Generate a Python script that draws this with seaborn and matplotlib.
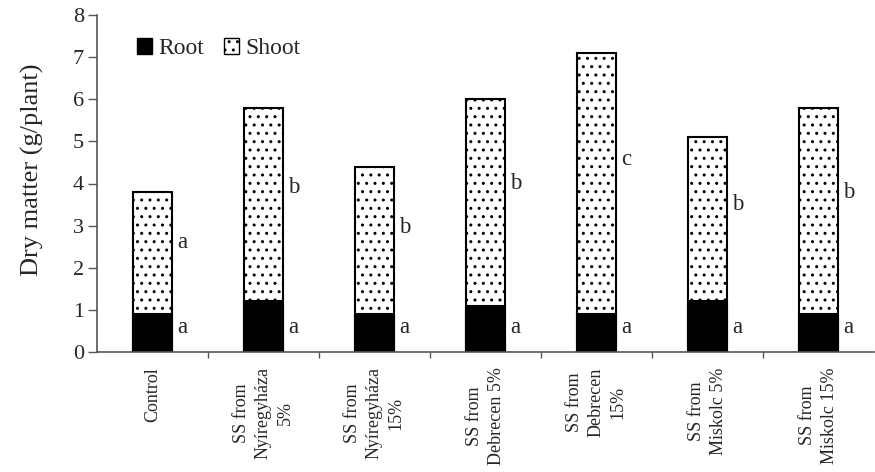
import matplotlib
matplotlib.use("Agg")
import matplotlib.pyplot as plt
import seaborn as sns
import pandas as pd
from matplotlib.patches import Patch

categories = ["Control", "SS from\nNyíregyháza\n5%", "SS from\nNyíregyháza\n15%",
              "SS from\nDebrecen 5%", "SS from\nDebrecen\n15%", "SS from\nMiskolc 5%",
              "SS from\nMiskolc 15%"]
root = [0.9, 1.2, 0.9, 1.1, 0.9, 1.2, 0.9]
total = [3.8, 5.8, 4.4, 6.0, 7.1, 5.1, 5.8]
root_letters = ["a", "a", "a", "a", "a", "a", "a"]
shoot_letters = ["a", "b", "b", "b", "c", "b", "b"]
yticks = [0, 1, 2, 3, 4, 5, 6, 7, 8]

sns.set_theme(style="white")
plt.rcParams['font.family'] = ['Liberation Serif', 'DejaVu Serif']
plt.rcParams['hatch.linewidth'] = 1.0
plt.rcParams['hatch.color'] = '#333333'

df = pd.DataFrame({"cat": categories, "root": root, "total": total})

fig = plt.figure(figsize=(8.75, 4.72), dpi=100)
ax = fig.add_axes([97/875, 1 - 352/472, 777/875, 337/472])

sns.barplot(data=df, x="cat", y="total", color="white", width=0.35,
            edgecolor="black", linewidth=1.5, ax=ax, saturation=1)
n = len(categories)
for p in ax.patches[:n]:
    p.set_hatch("..")
sns.barplot(data=df, x="cat", y="root", color="black", width=0.35,
            edgecolor="black", linewidth=1.5, ax=ax, saturation=1)

for i in range(n):
    ax.text(i + 0.27, 0.57, root_letters[i], fontsize=16.5, va="center", ha="center")
    ax.text(i + 0.27, root[i] + 0.59 * (total[i] - root[i]), shoot_letters[i],
            fontsize=16.5, va="center", ha="center")

ax.set_xlim(-0.5, n - 0.5)
ax.set_ylim(0, 8)
ax.set_yticks(yticks)
ax.set_yticklabels([str(t) for t in yticks], fontsize=16)
ax.set_xlabel("")
ax.set_ylabel("Dry matter (g/plant)", fontsize=19)
ax.yaxis.set_label_coords(-0.068, 0.54)
ax.set_xticks(range(n))
ax.set_xticklabels(categories, rotation=90, fontsize=13, linespacing=1.35)
ax.set_xticks([i + 0.5 for i in range(n - 1)], minor=True)
ax.tick_params(axis="x", which="major", length=0, pad=11)
ax.tick_params(axis="x", which="minor", length=4, width=1, color="#555555", direction="out", bottom=True)
ax.tick_params(axis="y", length=6.5, width=1, color="#555555", direction="out", left=True, pad=3)

for s in ["top", "right"]:
    ax.spines[s].set_visible(False)
for s in ["left", "bottom"]:
    ax.spines[s].set_color("#555555")
    ax.spines[s].set_linewidth(1.2)

handles = [Patch(facecolor="black", edgecolor="black", label="Root"),
           Patch(facecolor="white", edgecolor="black", hatch="..", label="Shoot")]
ax.legend(handles=handles, loc="center left", bbox_to_anchor=(40/777, 0.9), ncol=2,
          frameon=False, fontsize=17, handlelength=0.65, handleheight=0.65,
          handletextpad=0.25, columnspacing=0.85, borderpad=0, borderaxespad=0)

fig.savefig("out.png", dpi=100)
